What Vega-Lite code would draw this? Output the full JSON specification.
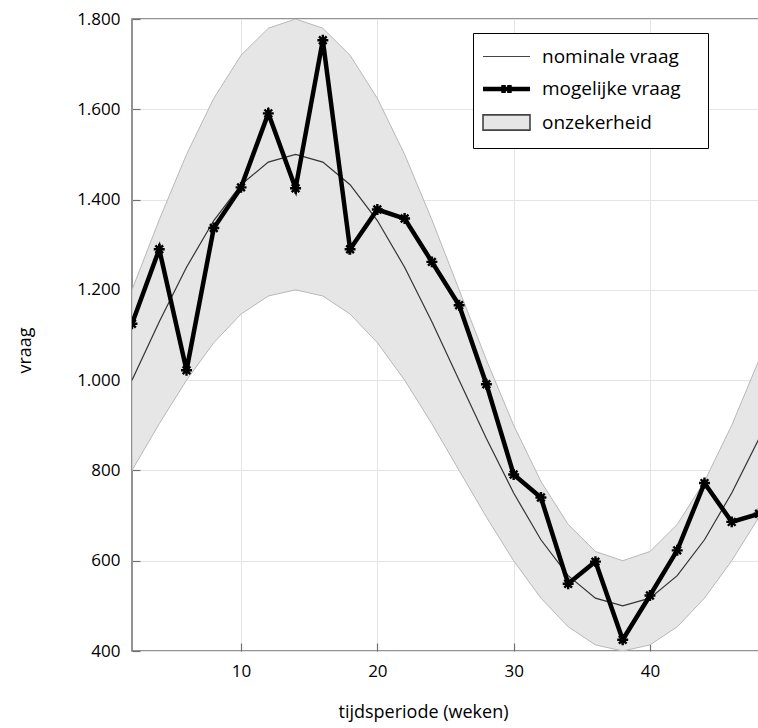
{
  "$schema": "https://vega.github.io/schema/vega-lite/v6.json",
  "width": 627,
  "height": 632,
  "autosize": {"type": "none"},
  "padding": {"left": 132, "top": 19, "right": 0, "bottom": 77},
  "background": "white",
  "config": {
    "font": "Open Sans",
    "view": {"stroke": "#707070", "strokeWidth": 1.5},
    "axis": {
      "domain": false,
      "grid": true,
      "gridColor": "#e4e4e4",
      "gridWidth": 1,
      "tickColor": "#707070",
      "tickWidth": 1.2,
      "tickSize": -8,
      "zindex": 1,
      "labelColor": "#000000",
      "labelFontSize": 17,
      "labelFont": "Open Sans",
      "titleFont": "Open Sans",
      "titleFontSize": 18,
      "titleFontWeight": "normal",
      "titleColor": "#000000"
    }
  },
  "data": {
    "values": [
      {"t": 2, "nom": 1000, "low": 800, "high": 1200, "mog": 1125},
      {"t": 4, "nom": 1129.4, "low": 903.5, "high": 1355.3, "mog": 1290},
      {"t": 6, "nom": 1250, "low": 1000, "high": 1500, "mog": 1022},
      {"t": 8, "nom": 1353.6, "low": 1082.9, "high": 1624.3, "mog": 1337},
      {"t": 10, "nom": 1433, "low": 1146.4, "high": 1719.6, "mog": 1427},
      {"t": 12, "nom": 1483, "low": 1186.4, "high": 1779.6, "mog": 1591},
      {"t": 14, "nom": 1500, "low": 1200, "high": 1800, "mog": 1425},
      {"t": 16, "nom": 1483, "low": 1186.4, "high": 1779.6, "mog": 1753},
      {"t": 18, "nom": 1433, "low": 1146.4, "high": 1719.6, "mog": 1290},
      {"t": 20, "nom": 1353.6, "low": 1082.9, "high": 1624.3, "mog": 1378},
      {"t": 22, "nom": 1250, "low": 1000, "high": 1500, "mog": 1358},
      {"t": 24, "nom": 1129.4, "low": 903.5, "high": 1355.3, "mog": 1262},
      {"t": 26, "nom": 1000, "low": 800, "high": 1200, "mog": 1166},
      {"t": 28, "nom": 870.6, "low": 696.5, "high": 1044.7, "mog": 991},
      {"t": 30, "nom": 750, "low": 600, "high": 900, "mog": 791},
      {"t": 32, "nom": 646.4, "low": 517.1, "high": 775.7, "mog": 740},
      {"t": 34, "nom": 567, "low": 453.6, "high": 680.4, "mog": 549},
      {"t": 36, "nom": 517, "low": 413.6, "high": 620.4, "mog": 598},
      {"t": 38, "nom": 500, "low": 400, "high": 600, "mog": 425},
      {"t": 40, "nom": 517, "low": 413.6, "high": 620.4, "mog": 523},
      {"t": 42, "nom": 567, "low": 453.6, "high": 680.4, "mog": 623},
      {"t": 44, "nom": 646.4, "low": 517.1, "high": 775.7, "mog": 772},
      {"t": 46, "nom": 750, "low": 600, "high": 900, "mog": 686},
      {"t": 48, "nom": 870.6, "low": 696.5, "high": 1044.7, "mog": 704}
    ]
  },
  "layer": [
    {
      "mark": {"type": "area", "stroke": "#b8b8b8", "strokeWidth": 1, "opacity": 1, "clip": true},
      "encoding": {
        "x": {
          "field": "t", "type": "quantitative",
          "scale": {"domain": [2, 48], "nice": false, "zero": false},
          "axis": {
            "values": [10, 20, 30, 40],
            "title": "tijdsperiode (weken)",
            "labelPadding": 20,
            "titleX": 291, "titleY": 61,
            "titleAlign": "center", "titleBaseline": "middle"
          }
        },
        "y": {
          "field": "low", "type": "quantitative",
          "scale": {"domain": [400, 1800], "nice": false, "zero": false},
          "axis": {
            "values": [400, 600, 800, 1000, 1200, 1400, 1600, 1800],
            "labelExpr": "replace(format(datum.value, ','), ',', '.')",
            "title": "vraag",
            "labelPadding": 20,
            "titleAngle": 270,
            "titleX": -107, "titleY": 331,
            "titleAlign": "center", "titleBaseline": "middle"
          }
        },
        "y2": {"field": "high"},
        "color": {
          "datum": "onzekerheid",
          "type": "nominal",
          "scale": {
            "domain": ["nominale vraag", "mogelijke vraag", "onzekerheid"],
            "range": ["#333333", "#000000", "#e6e6e6"]
          },
          "legend": {
            "title": null,
            "orient": "none",
            "legendX": 341,
            "legendY": 14,
            "strokeColor": "#000000",
            "fillColor": "#ffffff",
            "padding": 14,
            "labelFont": "Open Sans",
            "labelFontSize": 19,
            "labelColor": "#000000",
            "labelLimit": 400,
            "symbolSize": 552,
            "symbolOffset": 10,
            "labelOffset": 26,
            "rowPadding": 8.5,
            "labelExpr": "datum.label + '\u2002\u2009\u200b'",
            "encoding": {
              "symbols": {
                "shape": {"value": {"expr": "datum.value === 'onzekerheid' ? 'M-2,-0.65H2V0.65H-2Z' : (datum.value === 'mogelijke vraag' ? 'M-2,0H2M-0.25,-0.35V0.35M0.25,-0.35V0.35' : 'M-2,0H2')"}},
                "stroke": {"value": {"expr": "datum.value === 'onzekerheid' ? '#444444' : (datum.value === 'mogelijke vraag' ? '#000000' : '#444444')"}},
                "strokeWidth": {"value": {"expr": "datum.value === 'mogelijke vraag' ? 4.5 : (datum.value === 'onzekerheid' ? 1.6 : 1.2)"}},
                "strokeOpacity": {"value": 1},
                "fillOpacity": {"value": 1},
                "opacity": {"value": 1}
              }
            }
          }
        }
      }
    },
    {
      "mark": {"type": "line", "color": "#333333", "strokeWidth": 1.2, "clip": true},
      "encoding": {
        "x": {"field": "t", "type": "quantitative"},
        "y": {"field": "nom", "type": "quantitative"}
      }
    },
    {
      "mark": {"type": "line", "color": "#000000", "strokeWidth": 4.5, "strokeJoin": "miter", "clip": true},
      "encoding": {
        "x": {"field": "t", "type": "quantitative"},
        "y": {"field": "mog", "type": "quantitative"}
      }
    },
    {
      "mark": {
        "type": "point",
        "shape": "M-1,0H1M0,-1V1M-0.7,-0.7L0.7,0.7M-0.7,0.7L0.7,-0.7",
        "size": 120,
        "filled": false,
        "stroke": "#000000",
        "strokeWidth": 2.4,
        "opacity": 1,
        "clip": true
      },
      "encoding": {
        "x": {"field": "t", "type": "quantitative"},
        "y": {"field": "mog", "type": "quantitative"}
      }
    }
  ]
}
